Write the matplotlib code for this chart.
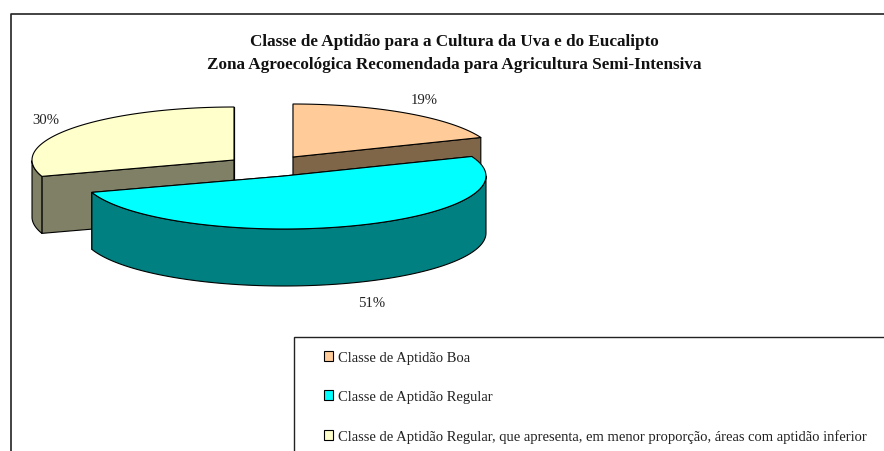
import numpy as np
import matplotlib
matplotlib.use("Agg")
import matplotlib.pyplot as plt
from matplotlib.patches import Polygon, Rectangle, Patch

titulo = "Classe de Aptidão para a Cultura da Uva e do Eucalipto\nZona Agroecológica Recomendada para Agricultura Semi-Intensiva"
classes = ["Classe de Aptidão Boa",
           "Classe de Aptidão Regular",
           "Classe de Aptidão Regular, que apresenta, em menor proporção, áreas com aptidão inferior"]
valores = [19, 51, 30]
cores = ["#FFCC99", "#00FFFF", "#FFFFCC"]
cores_lado = ["#806648", "#008080", "#808066"]

# centro de cada fatia (pixels da figura), fatias explodidas
centros = [(293, 158), (284, 177), (234, 161)]
etiquetas_pos = [(424, 101), (372, 304), (46, 121)]
RX, RY, ALT = 202, 53, 57

plt.rcParams['font.family'] = ['Liberation Serif', 'DejaVu Serif']

fig = plt.figure(figsize=(8.84, 4.52), dpi=100)
ax = fig.add_axes([0, 0, 1, 1])
ax.set_xlim(0, 884)
ax.set_ylim(452, 0)
ax.axis('off')

# moldura do grafico, cortada a direita e em baixo
ax.plot([10.5, 10.5, 884], [452, 15, 15], color='#222222', lw=1.2)


def ponto(c, t):
    return c[0] + RX*np.sin(t), c[1] - RY*np.cos(t)


def fatia(c, t0, t1, cor, cor_lado, z):
    # t em radianos, sentido horario a partir do topo
    t = np.linspace(t0, t1, 120)
    x, y = ponto(c, t)
    estilo = dict(edgecolor='black', lw=0.8, joinstyle='round', zorder=z)
    # faces do corte
    for xa, ya in [(x[0], y[0]), (x[-1], y[-1])]:
        ax.add_patch(Polygon([c, (xa, ya), (xa, ya+ALT), (c[0], c[1]+ALT)],
                             facecolor=cor_lado, **estilo))
    # borda externa, so a parte da frente aparece
    m = (t >= np.pi/2) & (t <= 3*np.pi/2)
    if m.any():
        xm, ym = x[m], y[m]
        pts = np.r_[np.c_[xm, ym], np.c_[xm[::-1], ym[::-1]+ALT]]
        ax.add_patch(Polygon(pts, facecolor=cor_lado, **estilo))
    topo = np.r_[[c], np.c_[x, y]]
    ax.add_patch(Polygon(topo, facecolor=cor, **estilo))


angulos = np.cumsum([0] + valores) / sum(valores) * 2*np.pi
for i in [2, 0, 1]:
    fatia(centros[i], angulos[i], angulos[i+1], cores[i], cores_lado[i], 2 + [2, 0, 1].index(i))

for v, p in zip(valores, etiquetas_pos):
    ax.text(p[0], p[1], "%d%%" % v, ha='center', va='center', fontsize=10.6, color='#222222', zorder=10)

ax.text(454, 53.5, titulo, ha='center', va='center', fontsize=12.3, fontweight='bold',
        linespacing=1.59, color='#111111')

# caixa da legenda, tambem cortada
ax.add_patch(Rectangle((294, 337.5), 640, 160, facecolor='white', edgecolor='#222222', lw=1.0, zorder=5))
alcas = [Patch(facecolor=c, edgecolor='black', lw=0.8) for c in cores]
leg = ax.legend(alcas, classes, loc='upper left', bbox_to_anchor=(324/884, 1-352/452),
                bbox_transform=fig.transFigure, frameon=False, fontsize=10.5,
                labelspacing=1.79, handlelength=0.62, handleheight=0.62,
                handletextpad=0.34, borderpad=0, borderaxespad=0,
                labelcolor='#222222')
leg.set_zorder(6)

fig.savefig("out.png", dpi=100)
